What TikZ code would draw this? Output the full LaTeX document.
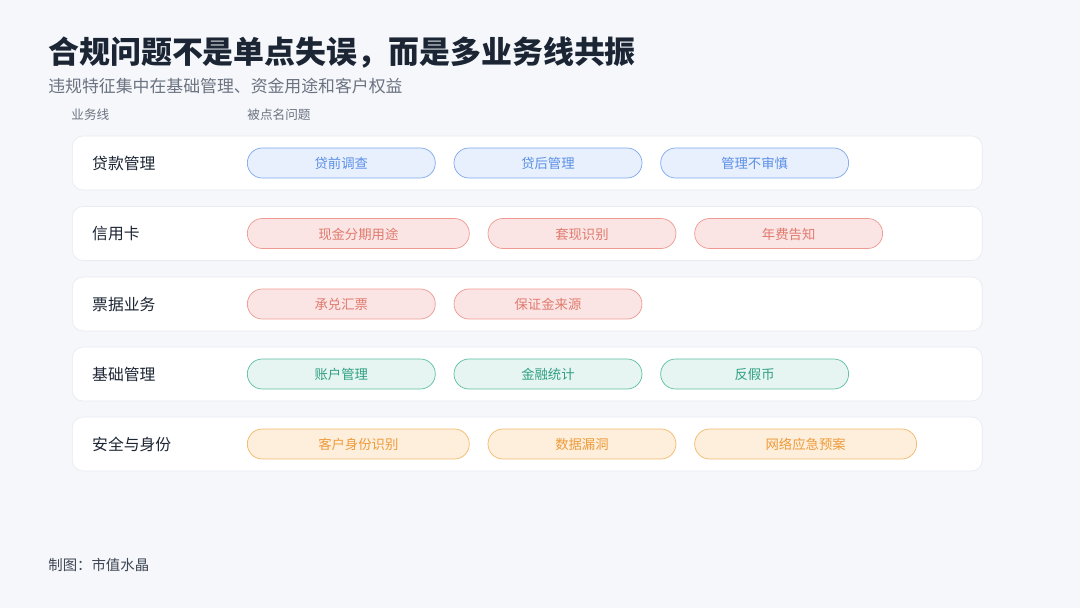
\documentclass[tikz,border=0pt]{standalone}
\usepackage{fontspec}
\setmainfont{Noto Sans CJK SC}
\usetikzlibrary{positioning}
\definecolor{bgc}{HTML}{F5F7FB}
\definecolor{ink}{HTML}{1B2533}
\definecolor{subc}{HTML}{6B7380}
\definecolor{cardline}{HTML}{E8EBF0}
\definecolor{bluef}{HTML}{E8F0FD}\definecolor{blued}{HTML}{7FA8EE}\definecolor{bluet}{HTML}{5B8FE6}
\definecolor{redf}{HTML}{FBE5E4}\definecolor{redd}{HTML}{EE9A92}\definecolor{redt}{HTML}{E07A6E}
\definecolor{greenf}{HTML}{E6F5F1}\definecolor{greend}{HTML}{5CBFA4}\definecolor{greent}{HTML}{2FA083}
\definecolor{orangef}{HTML}{FEEFDC}\definecolor{oranged}{HTML}{F2B86B}\definecolor{oranget}{HTML}{EE9A3A}
\begin{document}
\begin{tikzpicture}[
  x=0.02cm, y=-0.02cm,
  node distance=0.36cm,
  card/.style={rectangle, rounded corners=6pt, draw=cardline, fill=white, minimum width=18.2cm, minimum height=1.08cm, anchor=west},
  rowlabel/.style={anchor=west, font=\fontsize{9}{10}\selectfont, text=ink},
  pill/.style={rectangle, rounded corners=8.5pt, minimum width=3.76cm, minimum height=0.6cm, inner sep=0pt, font=\fontsize{7.6}{8}\selectfont, text depth=-5pt},
  wide/.style={minimum width=4.44cm},
  blue/.style={pill, fill=bluef, draw=blued, text=bluet},
  red/.style={pill, fill=redf, draw=redd, text=redt},
  green/.style={pill, fill=greenf, draw=greend, text=greent},
  orange/.style={pill, fill=orangef, draw=oranged, text=oranget}
]
  \fill[bgc] (0,0) rectangle (1080,608);

  % titles
  \node[anchor=west, font=\fontsize{17.6}{20}\selectfont\bfseries, text=ink, inner sep=0pt] (title) at (48,53) {合规问题不是单点失误，而是多业务线共振};
  \node[anchor=west, font=\fontsize{9.6}{11}\selectfont, text=subc, inner sep=0pt] (subtitle) at (48,86) {违规特征集中在基础管理、资金用途和客户权益};
  \node[anchor=west, font=\fontsize{7.2}{8}\selectfont, text=subc, inner sep=0pt] (hline) at (71,115) {业务线};
  \node[anchor=west, font=\fontsize{7.2}{8}\selectfont, text=subc, inner sep=0pt] (hissue) at (247,115) {被点名问题};

  % rows
  \node[card] (c1) at (72,163) {};
  \node[rowlabel] (l1) at (86,163) {贷款管理};
  \node[blue, anchor=west] (p11) at (247,163) {贷前调查};
  \node[blue, right=of p11] (p12) {贷后管理};
  \node[blue, right=of p12] (p13) {管理不审慎};

  \node[card] (c2) at (72,233.5) {};
  \node[rowlabel] (l2) at (86,233.5) {信用卡};
  \node[red, wide, anchor=west] (p21) at (247,233.5) {现金分期用途};
  \node[red, right=of p21] (p22) {套现识别};
  \node[red, right=of p22] (p23) {年费告知};

  \node[card] (c3) at (72,304) {};
  \node[rowlabel] (l3) at (86,304) {票据业务};
  \node[red, anchor=west] (p31) at (247,304) {承兑汇票};
  \node[red, right=of p31] (p32) {保证金来源};

  \node[card] (c4) at (72,374) {};
  \node[rowlabel] (l4) at (86,374) {基础管理};
  \node[green, anchor=west] (p41) at (247,374) {账户管理};
  \node[green, right=of p41] (p42) {金融统计};
  \node[green, right=of p42] (p43) {反假币};

  \node[card] (c5) at (72,444) {};
  \node[rowlabel] (l5) at (86,444) {安全与身份};
  \node[orange, wide, anchor=west] (p51) at (247,444) {客户身份识别};
  \node[orange, right=of p51] (p52) {数据漏洞};
  \node[orange, wide, right=of p52] (p53) {网络应急预案};

  % footer
  \node[anchor=west, font=\fontsize{8.2}{9}\selectfont, text=ink!85, inner sep=0pt] (credit) at (48,565) {制图：市值水晶};
\end{tikzpicture}
\end{document}
